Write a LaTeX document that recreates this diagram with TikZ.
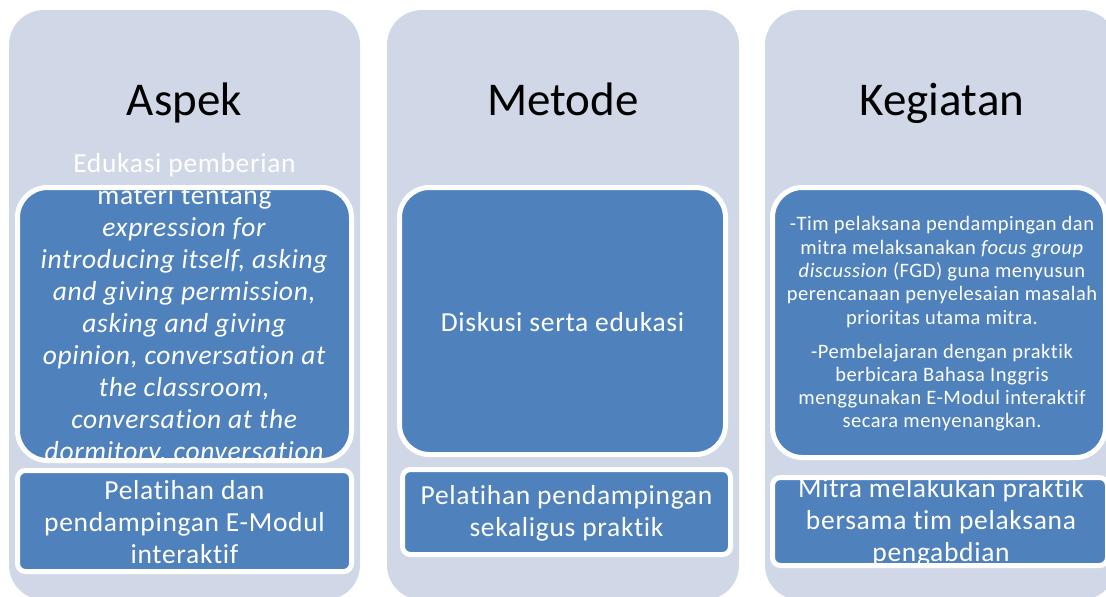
\documentclass[tikz,border=0pt]{standalone}
\usepackage{fontspec}
\setmainfont{Carlito}[Ligatures=CommonOff]
\newfontfamily\spacedfont{Carlito}[Ligatures=CommonOff, LetterSpace=2.5]
\definecolor{colbg}{RGB}{208,216,232}
\definecolor{boxblue}{RGB}{79,129,189}
\begin{document}
\begin{tikzpicture}[x=1pt,y=-1pt,
  colbox/.style={rectangle, fill=colbg, draw=none, rounded corners=35pt, inner sep=0pt, outer sep=0pt, minimum width=351pt, minimum height=590pt},
  bigbox/.style={rectangle, fill=boxblue, draw=white, line width=5pt, rounded corners=30pt, inner sep=0pt, outer sep=0pt},
  smallbox/.style={rectangle, fill=boxblue, draw=white, line width=5pt, rounded corners=8pt, inner sep=0pt, outer sep=0pt},
  title/.style={anchor=base, inner sep=0pt, text=black, font=\fontsize{47}{56}\selectfont},
  btext/.style={inner sep=0pt, text=white, align=center, font=\spacedfont\fontsize{27.5}{32}\selectfont},
  stext/.style={inner sep=0pt, text=white, align=center, font=\spacedfont\fontsize{20.5}{23.3}\selectfont}]
\useasboundingbox (0,0) rectangle (1106,597);
% columns
\node[colbox] (c1) at (184.5,305) {};
\node[colbox, minimum width=352pt] (c2) at (563,305) {};
\node[colbox] (c3) at (940.5,305) {};
% titles
\node[title] (t1) at (184.5,115) {Aspek};
\node[title] (t2) at (563,115) {Metode};
\node[title] (t3) at (942,115) {Kegiatan};
% boxes
\node[bigbox, minimum width=334pt, minimum height=273pt] (a1) at (184.5,324) {};
\node[smallbox, minimum width=334pt, minimum height=101pt] (a2) at (184.5,521) {};
\node[bigbox, minimum width=326pt, minimum height=267pt] (m1) at (562.5,321) {};
\node[smallbox, minimum width=328pt, minimum height=85pt] (m2) at (566.5,512) {};
\node[bigbox, minimum width=333pt, minimum height=270pt] (k1) at (939,322.5) {};
\node[smallbox, minimum width=335pt, minimum height=88pt] (k2) at (940,521.5) {};
% texts
\begin{scope}
\clip (0,0) rectangle (1106,458);
\node[btext] (a1t) at (184.5,309) {Edukasi pemberian\\materi tentang\\\textit{expression for}\\\textit{introducing itself, asking}\\\textit{and giving permission,}\\\textit{asking and giving}\\\textit{opinion, conversation at}\\\textit{the classroom,}\\\textit{conversation at the}\\\textit{dormitory, conversation}};
\end{scope}
\node[btext] (a2t) at (184.5,522) {Pelatihan dan\\pendampingan E-Modul\\interaktif};
\node[btext] (m1t) at (562.5,322) {Diskusi serta edukasi};
\node[btext] (m2t) at (566.5,513) {Pelatihan pendampingan\\sekaligus praktik};
\node[stext] (k1t) at (942,324) {-Tim pelaksana pendampingan dan\\mitra melaksanakan \textit{focus group}\\\textit{discussion} (FGD) guna menyusun\\perencanaan penyelesaian masalah\\prioritas utama mitra.\\[10.7pt]-Pembelajaran dengan praktik\\berbicara Bahasa Inggris\\menggunakan E-Modul interaktif\\secara menyenangkan.};
\begin{scope}
\clip (0,0) rectangle (1106,563);
\node[btext] (k2t) at (941,522) {Mitra melakukan praktik\\bersama tim pelaksana\\pengabdian};
\end{scope}
\end{tikzpicture}
\end{document}
